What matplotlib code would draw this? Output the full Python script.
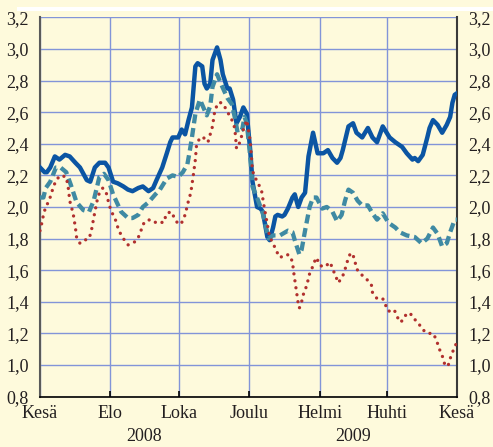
import numpy as np
import matplotlib
matplotlib.use("Agg")
import matplotlib.pyplot as plt
import matplotlib.dates as mdates
from matplotlib.patches import Rectangle

START = np.datetime64("2008-06-01")

# päivää 1.6.2008 jälkeen
blue_days = [0, 4, 6, 9, 13, 17, 22, 26, 31, 35,
             41, 44, 48, 52, 57, 60, 64, 68, 73, 77,
             81, 86, 90, 95, 99, 102, 107, 111, 114, 116,
             121, 124, 127, 130, 133, 136, 138, 142, 144, 146,
             149, 151, 155, 158, 160, 164, 166, 169, 172, 175,
             178, 181, 184, 186, 190, 193, 195, 199, 201, 204,
             206, 208, 212, 214, 217, 221, 223, 226, 229, 232,
             235, 239, 243, 248, 252, 256, 260, 263, 265, 270,
             274, 277, 282, 287, 291, 295, 300, 306, 311, 317,
             321, 326, 328, 331, 335, 339, 341, 344, 348, 352,
             356, 359, 361, 363, 365]
blue_vals = [2.25, 2.22, 2.22, 2.25, 2.32, 2.30, 2.33, 2.32, 2.28, 2.25,
             2.17, 2.16, 2.25, 2.28, 2.28, 2.25, 2.16, 2.15, 2.13, 2.11,
             2.10, 2.12, 2.13, 2.10, 2.12, 2.17, 2.25, 2.34, 2.41, 2.44,
             2.44, 2.49, 2.46, 2.55, 2.63, 2.89, 2.91, 2.89, 2.78, 2.75,
             2.78, 2.93, 3.01, 2.93, 2.84, 2.75, 2.75, 2.68, 2.53, 2.57,
             2.63, 2.59, 2.36, 2.16, 2.00, 1.99, 1.97, 1.81, 1.79, 1.87,
             1.94, 1.95, 1.94, 1.95, 1.99, 2.06, 2.08, 2.00, 2.06, 2.09,
             2.32, 2.47, 2.34, 2.34, 2.36, 2.31, 2.28, 2.31, 2.36, 2.51,
             2.53, 2.47, 2.44, 2.50, 2.44, 2.41, 2.51, 2.44, 2.41, 2.38,
             2.34, 2.30, 2.31, 2.29, 2.33, 2.44, 2.50, 2.55, 2.52, 2.47,
             2.52, 2.57, 2.66, 2.71, 2.72]

teal_days = [0, 3, 5, 9, 14, 18, 23, 27, 32, 38,
             43, 47, 52, 56, 60, 64, 71, 77, 81, 86,
             90, 95, 101, 105, 111, 116, 121, 125, 129, 131,
             133, 136, 140, 143, 146, 149, 151, 155, 159, 164,
             168, 171, 173, 177, 179, 181, 184, 186, 191, 195,
             200, 204, 210, 217, 221, 223, 227, 229, 232, 236,
             239, 242, 247, 251, 256, 260, 264, 267, 270, 274,
             278, 282, 287, 291, 295, 300, 305, 311, 315, 321,
             328, 334, 339, 344, 348, 352, 356, 359, 363, 365]
teal_vals = [2.06, 2.06, 2.12, 2.16, 2.25, 2.25, 2.22, 2.14, 2.03, 1.98,
             1.97, 2.04, 2.19, 2.21, 2.17, 2.08, 1.97, 1.93, 1.93, 1.95,
             2.00, 2.03, 2.08, 2.11, 2.18, 2.20, 2.19, 2.22, 2.27, 2.35,
             2.44, 2.59, 2.68, 2.63, 2.58, 2.64, 2.76, 2.84, 2.77, 2.69,
             2.65, 2.55, 2.47, 2.49, 2.57, 2.53, 2.32, 2.13, 2.04, 1.96,
             1.80, 1.82, 1.82, 1.85, 1.84, 1.79, 1.70, 1.73, 1.85, 2.00,
             2.06, 2.06, 1.99, 2.00, 1.97, 1.91, 1.95, 2.04, 2.11, 2.09,
             2.04, 2.01, 2.01, 1.96, 1.92, 1.96, 1.90, 1.87, 1.84, 1.82,
             1.81, 1.77, 1.80, 1.87, 1.83, 1.75, 1.77, 1.84, 1.92, 1.92]

red_days = [0, 2, 3, 5, 8, 11, 14, 18, 23, 25,
            26, 29, 31, 32, 35, 39, 43, 45, 47, 50,
            52, 55, 58, 60, 62, 66, 69, 73, 77, 81,
            85, 88, 90, 95, 100, 103, 108, 111, 115, 117,
            121, 124, 127, 130, 132, 134, 136, 137, 140, 143,
            147, 149, 151, 152, 153, 156, 159, 162, 165, 168,
            170, 171, 172, 175, 178, 181, 184, 186, 188, 191,
            194, 196, 199, 201, 204, 207, 210, 216, 219, 221,
            222, 223, 224, 225, 226, 227, 229, 231, 234, 235,
            238, 240, 242, 245, 249, 254, 256, 259, 261, 264,
            266, 268, 270, 272, 275, 277, 280, 285, 290, 291,
            295, 300, 303, 305, 310, 313, 316, 319, 324, 326,
            331, 334, 339, 344, 347, 349, 352, 354, 357, 359,
            361, 364]
red_vals = [1.85, 1.91, 1.95, 2.00, 2.04, 2.11, 2.17, 2.20, 2.19, 2.11,
            2.04, 1.96, 1.87, 1.81, 1.77, 1.79, 1.80, 1.85, 1.93, 2.04,
            2.09, 2.12, 2.09, 2.03, 1.98, 1.92, 1.85, 1.80, 1.76, 1.77,
            1.79, 1.84, 1.89, 1.92, 1.90, 1.91, 1.90, 1.96, 1.97, 1.94,
            1.89, 1.90, 1.95, 2.04, 2.09, 2.19, 2.30, 2.39, 2.44, 2.44,
            2.41, 2.46, 2.51, 2.56, 2.61, 2.66, 2.66, 2.63, 2.59, 2.55,
            2.51, 2.46, 2.37, 2.41, 2.49, 2.55, 2.42, 2.23, 2.19, 2.15,
            2.10, 2.01, 1.89, 1.81, 1.77, 1.72, 1.68, 1.70, 1.69, 1.65,
            1.59, 1.54, 1.49, 1.44, 1.39, 1.36, 1.40, 1.46, 1.51, 1.56,
            1.61, 1.65, 1.68, 1.63, 1.62, 1.65, 1.61, 1.56, 1.52, 1.55,
            1.58, 1.63, 1.68, 1.71, 1.68, 1.61, 1.58, 1.55, 1.51, 1.46,
            1.42, 1.42, 1.37, 1.34, 1.35, 1.30, 1.27, 1.31, 1.33, 1.30,
            1.27, 1.23, 1.20, 1.20, 1.16, 1.11, 1.06, 1.01, 0.99, 1.04,
            1.08, 1.13]

month_ticks = ["2008-06-01", "2008-08-01", "2008-10-01", "2008-12-01",
               "2009-02-01", "2009-04-01", "2009-06-01"]
month_labels = ["Kesä", "Elo", "Loka", "Joulu", "Helmi", "Huhti", "Kesä"]
year_labels = ["2008", "2009"]

BG = "#fefadc"
GRID = "#8294d8"
TXT = "#231f20"


def to_dates(days):
    return START + np.array(days, dtype="timedelta64[D]")


plt.rcParams["font.family"] = ["Liberation Serif", "DejaVu Serif"]

fig = plt.figure(figsize=(4.93, 4.47), dpi=100, facecolor=BG)
ax = fig.add_axes([0.0811, 0.1128, 0.8459, 0.8483], facecolor=BG)

# valkoinen raita ylhäällä
fig.add_artist(Rectangle((0.0345, 0.976), 1.0, 0.0076, transform=fig.transFigure,
                         facecolor="white", edgecolor="none"))

ax.plot(to_dates(blue_days), blue_vals, color="#0b55a3", lw=3.2,
        solid_joinstyle="round", zorder=3)
ax.plot(to_dates(teal_days), teal_vals, color="#3f8aa3", lw=3.1,
        linestyle=(0, (2.1, 1.1)), dash_capstyle="butt", zorder=4)
ax.plot(to_dates(red_days), red_vals, color="#b1302e", lw=2.4,
        linestyle=(0, (0.01, 2.1)), dash_capstyle="round", zorder=5)

xt = np.array(month_ticks, dtype="datetime64[D]")
ax.set_xlim(xt[0], xt[-1])
ax.set_ylim(0.8, 3.2)
yt = np.round(np.arange(0.8, 3.21, 0.2), 1)
ax.set_yticks(yt)
ax.set_yticklabels([f"{v:.1f}".replace(".", ",") for v in yt])
ax.set_xticks(xt)
ax.set_xticklabels(month_labels)

ax.grid(True, color=GRID, lw=1.0)
ax.set_axisbelow(True)

ax.tick_params(axis="y", length=0, labelsize=13, colors=TXT,
               labelleft=True, labelright=True, pad=8)
ax.tick_params(axis="x", direction="in", length=4, width=1.2, colors="black",
               labelsize=13, labelcolor=TXT, pad=6)

# vuosiluvut kuukausien alle
xnum = mdates.date2num(xt.astype("datetime64[s]"))
for (i, j), year in zip([(1, 2), (4, 5)], year_labels):
    ax.text((xnum[i] + xnum[j]) / 2, -0.105, year, transform=ax.get_xaxis_transform(),
            ha="center", va="center", fontsize=13, color=TXT)

ax.spines["top"].set_visible(False)
ax.spines["left"].set_color("#5a5a5a")
ax.spines["left"].set_linewidth(1.5)
ax.spines["right"].set_color("#3a3a3a")
ax.spines["right"].set_linewidth(1.5)
ax.spines["bottom"].set_color("black")
ax.spines["bottom"].set_linewidth(1.2)

fig.savefig("out.png", dpi=100, facecolor=BG)
